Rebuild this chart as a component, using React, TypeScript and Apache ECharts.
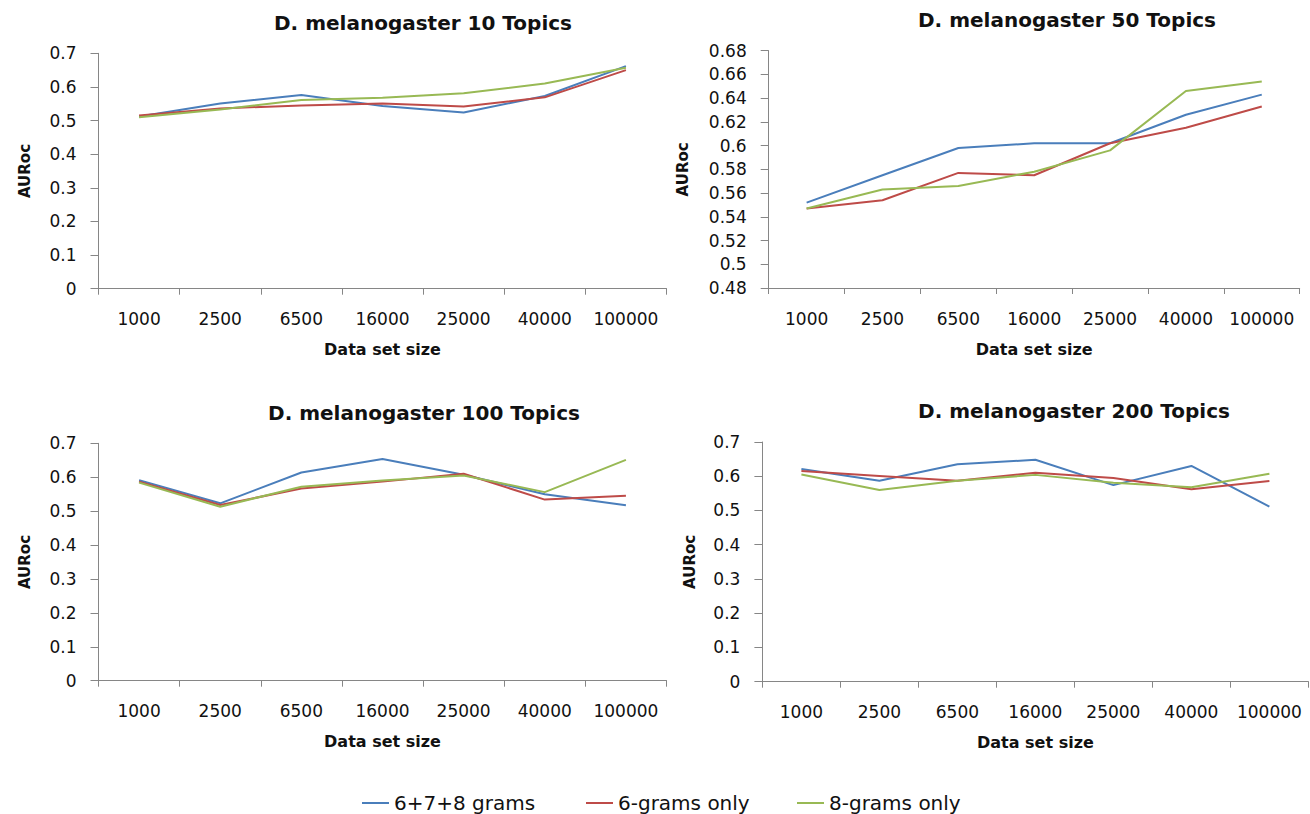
import React, { useEffect, useRef } from "react";
import * as echarts from "echarts";

const categories = ["1000", "2500", "6500", "16000", "25000", "40000", "100000"];
const seriesNames = ["6+7+8 grams", "6-grams only", "8-grams only"];
const panelTitles = [
  "D. melanogaster 10 Topics",
  "D. melanogaster 50 Topics",
  "D. melanogaster 100 Topics",
  "D. melanogaster 200 Topics",
];
const yTitle = "AURoc";
const xTitle = "Data set size";

const t10All = [0.512, 0.551, 0.576, 0.543, 0.524, 0.573, 0.662];
const t10Six = [0.515, 0.536, 0.545, 0.551, 0.542, 0.569, 0.65];
const t10Eight = [0.51, 0.533, 0.561, 0.568, 0.581, 0.61, 0.657];

const t50All = [0.552, 0.575, 0.598, 0.602, 0.602, 0.626, 0.643];
const t50Six = [0.547, 0.554, 0.577, 0.575, 0.602, 0.615, 0.633];
const t50Eight = [0.547, 0.563, 0.566, 0.578, 0.596, 0.646, 0.654];

const t100All = [0.591, 0.523, 0.614, 0.654, 0.607, 0.55, 0.517];
const t100Six = [0.587, 0.518, 0.567, 0.587, 0.61, 0.534, 0.545];
const t100Eight = [0.584, 0.513, 0.572, 0.59, 0.605, 0.556, 0.651];

const t200All = [0.621, 0.587, 0.635, 0.648, 0.574, 0.63, 0.511];
const t200Six = [0.615, 0.601, 0.587, 0.61, 0.595, 0.562, 0.586];
const t200Eight = [0.605, 0.56, 0.587, 0.604, 0.581, 0.568, 0.607];

const yRanges = [
  { min: 0, max: 0.7, interval: 0.1 },
  { min: 0.48, max: 0.68, interval: 0.02 },
  { min: 0, max: 0.7, interval: 0.1 },
  { min: 0, max: 0.7, interval: 0.1 },
];

const panelData = [
  [t10All, t10Six, t10Eight],
  [t50All, t50Six, t50Eight],
  [t100All, t100Six, t100Eight],
  [t200All, t200Six, t200Eight],
];

const colors = ["#4A7EBB", "#BE4B48", "#98B954"];

// layout (pixels)
const grids = [
  { left: 98.5, top: 53.3, width: 568, height: 235.4 },
  { left: 768.7, top: 50.7, width: 531, height: 237.3 },
  { left: 98.5, top: 443.3, width: 568, height: 237.4 },
  { left: 762.4, top: 442, width: 546, height: 239.7 },
];
const titlePos = [
  { x: 423, y: 13 },
  { x: 1067, y: 10 },
  { x: 424, y: 403 },
  { x: 1074, y: 401 },
];
const yNameGaps = [66, 78, 66, 64.5];
const xNameGaps = [53, 53, 53, 53];
const legendLefts = [362, 586, 797];

const FONT = "DejaVu Sans";
const AXIS_COLOR = "#868686";

export default function App() {
  const ref = useRef<HTMLDivElement>(null);

  useEffect(() => {
    if (!ref.current) return;
    const chart = echarts.init(ref.current, undefined, { renderer: "svg" });

    const xAxis = grids.map((_, i) => ({
      type: "category",
      gridIndex: i,
      data: categories,
      boundaryGap: true,
      axisLine: { lineStyle: { color: AXIS_COLOR, width: 1 } },
      axisTick: { show: true, length: 6, interval: 0, lineStyle: { color: AXIS_COLOR } },
      axisLabel: {
        interval: 0,
        margin: 22,
        color: "#111",
        fontFamily: FONT,
        fontSize: 17,
      },
      splitLine: { show: false },
      name: xTitle,
      nameLocation: "middle",
      nameGap: xNameGaps[i],
      nameTextStyle: { fontFamily: FONT, fontWeight: "bold", fontSize: 16, color: "#111" },
    }));

    const yAxis = grids.map((_, i) => ({
      type: "value",
      gridIndex: i,
      min: yRanges[i].min,
      max: yRanges[i].max,
      interval: yRanges[i].interval,
      axisLine: { show: true, lineStyle: { color: AXIS_COLOR, width: 1 } },
      axisTick: { show: true, length: 8, lineStyle: { color: AXIS_COLOR } },
      axisLabel: {
        margin: 22,
        color: "#111",
        fontFamily: FONT,
        fontSize: 17,
      },
      splitLine: { show: false },
      name: yTitle,
      nameLocation: "middle",
      nameRotate: 90,
      nameGap: yNameGaps[i],
      nameTextStyle: { fontFamily: FONT, fontWeight: "bold", fontSize: 15, color: "#111" },
    }));

    const series: any[] = [];
    panelData.forEach((panel, p) => {
      panel.forEach((vals, s) => {
        series.push({
          type: "line",
          name: seriesNames[s],
          xAxisIndex: p,
          yAxisIndex: p,
          data: vals,
          symbol: "none",
          lineStyle: { color: colors[s], width: 2 },
          itemStyle: { color: colors[s] },
        });
      });
    });

    const option = {
      animation: false,
      backgroundColor: "#ffffff",
      title: panelTitles.map((t, i) => ({
        text: t,
        left: titlePos[i].x,
        top: titlePos[i].y,
        textAlign: "center",
        padding: 0,
        textStyle: { fontFamily: FONT, fontWeight: "bold", fontSize: 20, color: "#111" },
      })),
      legend: seriesNames.map((n, i) => ({
        data: [n],
        left: legendLefts[i],
        top: 793,
        padding: 0,
        icon: "rect",
        itemWidth: 27,
        itemHeight: 2,
        textStyle: { fontFamily: FONT, fontSize: 20, color: "#111" },
        selectedMode: false,
      })),
      grid: grids.map((g) => ({ ...g, containLabel: false })),
      xAxis,
      yAxis,
      series,
    };

    chart.setOption(option as any);
    return () => chart.dispose();
  }, []);

  return (
    <div
      ref={ref}
      style={{ position: "absolute", left: 0, top: 0, width: 1310, height: 814, background: "#fff" }}
    />
  );
}
